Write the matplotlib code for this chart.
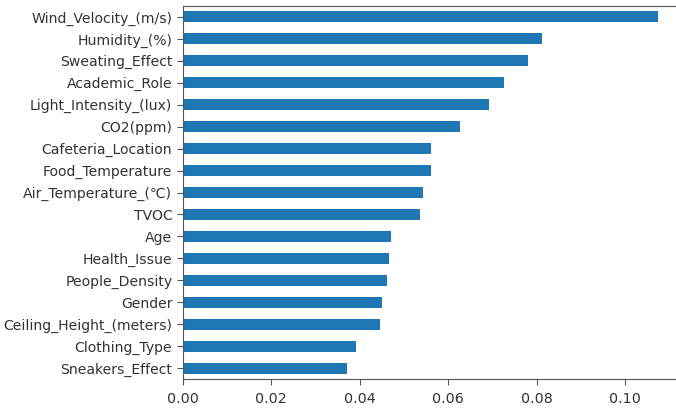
import matplotlib.pyplot as plt

# feature importances (smallest first, as barh draws bottom-up)
features = [
    "Sneakers_Effect", "Clothing_Type", "Ceiling_Height_(meters)", "Gender",
    "People_Density", "Health_Issue", "Age", "TVOC", "Air_Temperature_(\u2103)",
    "Food_Temperature", "Cafeteria_Location", "CO2(ppm)", "Light_Intensity_(lux)",
    "Academic_Role", "Sweating_Effect", "Humidity_(%)", "Wind_Velocity_(m/s)",
]
importance = [
    0.0371, 0.0391, 0.0445, 0.0450, 0.0462, 0.0466, 0.0471, 0.0536, 0.0544,
    0.0561, 0.0562, 0.0627, 0.0692, 0.0726, 0.0781, 0.0813, 0.1075,
]
xticks = [0.00, 0.02, 0.04, 0.06, 0.08, 0.10]

fig = plt.figure(figsize=(6.76, 4.08), dpi=100)
W, H = 676, 408
# the reference is cropped on the right, so the axes run past the figure edge
ax = fig.add_axes([182.7 / W, 1 - 379 / H, (682 - 182.7) / W, (379 - 6) / H])

pos = list(range(len(features)))
ax.barh(pos, importance, height=0.5, color="#1f77b4")
ax.set_yticks(pos)
ax.set_yticklabels(features, fontsize=10.1, color="#333333")
ax.set_ylim(-0.5, len(features) - 0.5)
ax.set_xlim(0, max(importance) * 1.05)
ax.set_xticks(xticks)
ax.set_xticklabels([f"{t:.2f}" for t in xticks], fontsize=10.3, color="#333333")
ax.tick_params(axis="x", length=4.3, pad=5, color="#555555")
ax.tick_params(axis="y", length=4.0, color="#555555")
ax.spines["right"].set_visible(False)
for s in ["left", "bottom", "top"]:
    ax.spines[s].set_color("#555555")

fig.savefig("out.png", dpi=100)
